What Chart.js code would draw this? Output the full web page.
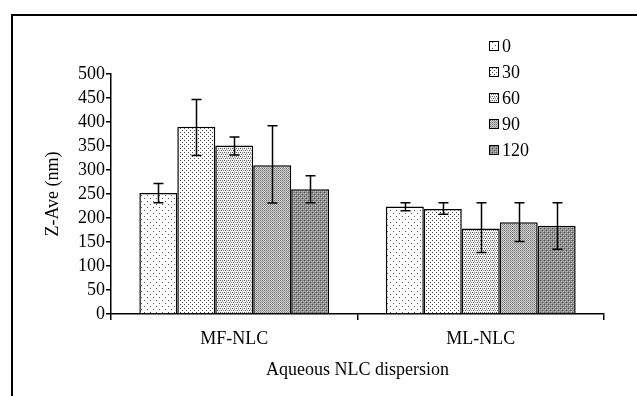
<!DOCTYPE html>
<html>
<head>
<meta charset="utf-8">
<script src="https://cdn.jsdelivr.net/npm/chart.js@4"></script>
<style>
  html, body { margin: 0; padding: 0; background: #fff; overflow: hidden; }
  #frame { position: absolute; left: 11px; top: 14px; width: 700px; height: 500px; border: 2px solid #000; }
  #wrap { position: absolute; left: 0; top: 0; width: 637px; height: 396px; }
</style>
</head>
<body>
<div id="frame"></div>
<div id="wrap"><canvas id="chart" width="637" height="396"></canvas></div>
<script>
// data
const categories = ["MF-NLC", "ML-NLC"];
const seriesLabels = ["0", "30", "60", "90", "120"];
const s0 = [252, 224];
const s30 = [390, 219];
const s60 = [351, 178];
const s90 = [310, 191];
const s120 = [260, 184];
// error bar ends
const hi0 = [272, 232], lo0 = [232, 215];
const hi30 = [447, 232], lo30 = [330, 208];
const hi60 = [369, 232], lo60 = [331, 128];
const hi90 = [392, 232], lo90 = [231, 151];
const hi120 = [288, 232], lo120 = [232, 135];
const yTicks = [0, 50, 100, 150, 200, 250, 300, 350, 400, 450, 500];

const FONT = "'Liberation Serif', 'Times New Roman', serif";

// fill patterns
function makePattern(size, bg, dots) {
  const c = document.createElement("canvas");
  c.width = size; c.height = size;
  const g = c.getContext("2d");
  g.fillStyle = bg;
  g.fillRect(0, 0, size, size);
  dots.forEach(([x, y, col]) => { g.fillStyle = col; g.fillRect(x, y, 1, 1); });
  return g.createPattern(c, "repeat");
}
const ctx = document.getElementById("chart").getContext("2d");
const patterns = [
  makePattern(6, "#ffffff", [[0, 0, "#555"], [3, 3, "#555"]]),
  makePattern(4, "#ffffff", [[0, 0, "#444"], [2, 2, "#444"]]),
  makePattern(4, "#f4f4f4", [[0, 0, "#555"], [2, 0, "#888"], [1, 2, "#555"], [3, 2, "#888"], [2, 1, "#bbb"]]),
  makePattern(2, "#d0d0d0", [[0, 0, "#777"], [1, 1, "#999"]]),
  makePattern(4, "#8a8a8a", [[0, 0, "#555"], [2, 2, "#555"], [1, 1, "#c8c8c8"], [3, 3, "#c8c8c8"], [1, 3, "#b0b0b0"], [3, 1, "#b0b0b0"]])
];

const values = [s0, s30, s60, s90, s120];
const highs = [hi0, hi30, hi60, hi90, hi120];
const lows = [lo0, lo30, lo60, lo90, lo120];

const datasets = seriesLabels.map((lab, i) => ({
  label: lab,
  data: values[i],
  errHi: highs[i],
  errLo: lows[i],
  backgroundColor: patterns[i],
  borderColor: "#000",
  borderWidth: 1.5,
  categoryPercentage: 0.77,
  barPercentage: 1
}));

// error bars
const errorBars = {
  id: "errorBars",
  afterDatasetsDraw(chart) {
    const c = chart.ctx;
    const y = chart.scales.y;
    c.save();
    c.strokeStyle = "#000";
    c.lineWidth = 1.5;
    chart.data.datasets.forEach((ds, di) => {
      const meta = chart.getDatasetMeta(di);
      meta.data.forEach((bar, j) => {
        const yh = y.getPixelForValue(ds.errHi[j]);
        const yl = y.getPixelForValue(ds.errLo[j]);
        const x = Math.round(bar.x) + 0.5;
        c.beginPath();
        c.moveTo(x, yh); c.lineTo(x, yl);
        c.moveTo(x - 5, yh); c.lineTo(x + 5, yh);
        c.moveTo(x - 5, yl); c.lineTo(x + 5, yl);
        c.stroke();
      });
    });
    c.restore();
  }
};

// legend drawn as a plain list at top right
const sideLegend = {
  id: "sideLegend",
  afterDraw(chart) {
    const c = chart.ctx;
    c.save();
    c.font = "18px " + FONT;
    c.textBaseline = "middle";
    chart.data.datasets.forEach((ds, i) => {
      const cy = 46 + i * 26;
      c.fillStyle = ds.backgroundColor;
      c.fillRect(489, cy - 4, 9, 9);
      c.strokeStyle = "#000";
      c.lineWidth = 1;
      c.strokeRect(489.5, cy - 4.5, 9, 9);
      c.fillStyle = "#000";
      c.fillText(ds.label, 502, cy + 1);
    });
    c.restore();
  }
};

new Chart(ctx, {
  type: "bar",
  data: { labels: categories, datasets },
  options: {
    responsive: false,
    animation: false,
    layout: { padding: { left: 38, top: 74, right: 33, bottom: 5 } },
    plugins: { legend: { display: false }, tooltip: { enabled: false } },
    scales: {
      x: {
        offset: true,
        grid: { offset: true, drawOnChartArea: false, drawTicks: true, tickLength: 6, color: "#000", lineWidth: 1.5 },
        border: { display: true, color: "#000", width: 1.5 },
        ticks: { color: "#000", font: { family: FONT, size: 18 }, padding: 8 },
        title: { display: true, text: "Aqueous NLC dispersion", color: "#000", font: { family: FONT, size: 18 }, padding: { top: 0, bottom: 10 } },
        afterFit: s => { s.height = 77; }
      },
      y: {
        min: 0,
        max: 500,
        afterBuildTicks: s => { s.ticks = yTicks.map(v => ({ value: v })); },
        grid: { drawOnChartArea: false, drawTicks: true, tickLength: 5, color: "#000", lineWidth: 1.5 },
        border: { display: true, color: "#000", width: 1.5 },
        ticks: { color: "#000", font: { family: FONT, size: 18 }, padding: 1, autoSkip: false },
        title: { display: true, text: "Z-Ave (nm)", color: "#000", font: { family: FONT, size: 18 }, padding: { top: 4, bottom: 0 } },
        afterFit: s => { s.width = 73; }
      }
    }
  },
  plugins: [errorBars, sideLegend]
});
</script>
</body>
</html>
